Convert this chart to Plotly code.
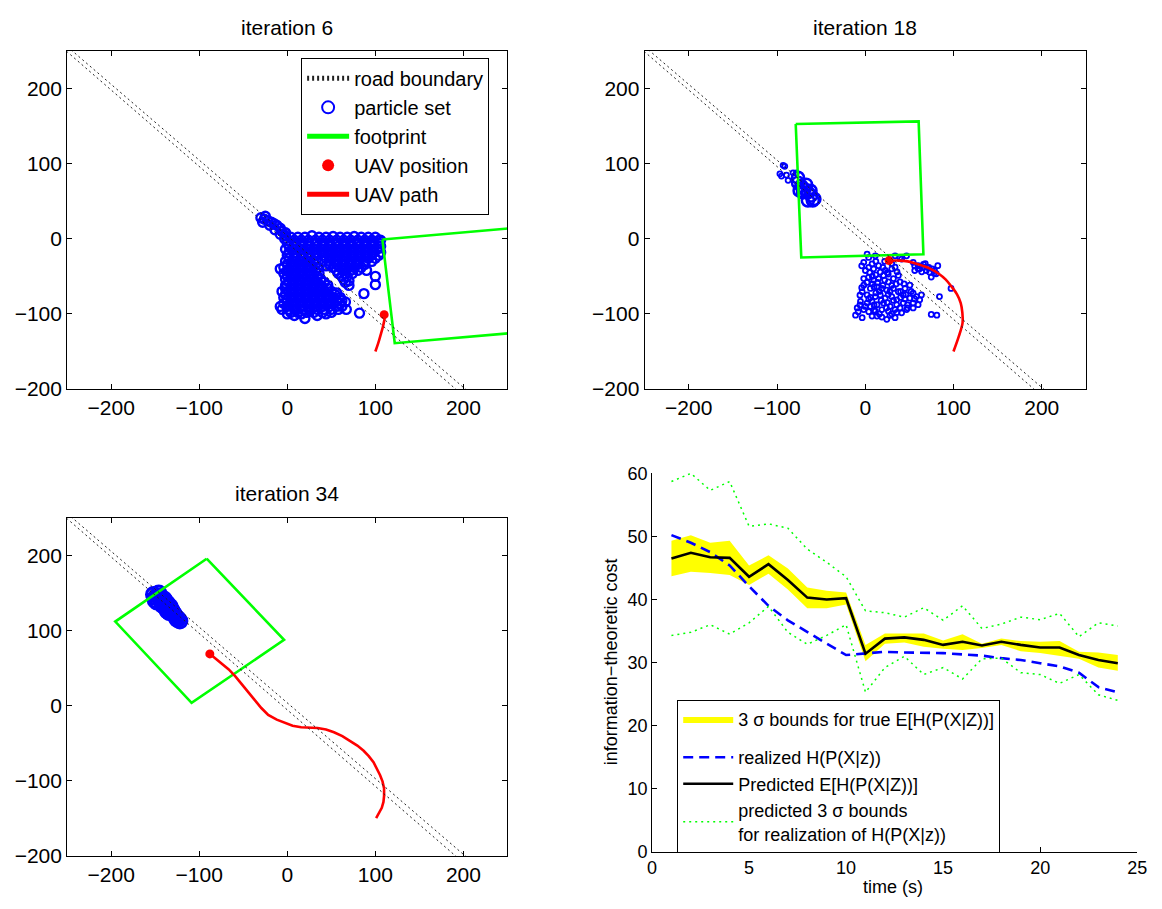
import plotly.graph_objects as go

FONT = "Liberation Sans, Arial, Helvetica, sans-serif"

# ---------------- data ----------------
# road boundaries (same in the three map panels)
road_a_x = [-255, 200]
road_a_y = [254, -209]
road_b_x = [-250, 215]
road_b_y = [256, -213]

# ---- iteration 6 ----
tl_particles = [
    # arm along the road
    (-30, 28), (-25, 30), (-28, 22), (-22, 24), (-20, 18), (-15, 20), (-14, 12), (-8, 14), (-8, 6), (-2, 8), (-3, 0),
    (-26, 26), (-18, 22), (-12, 18), (-6, 10), (-2, 4),
    # main body
    (4, 2), (12, 2), (20, 2), (28, 4), (36, 2), (44, 2), (52, 3), (60, 2), (68, 2), (76, 3), (84, 2), (92, 2), (100, 2), (106, -2),
    (0, -2), (8, -2), (16, -2), (24, -2), (32, -2), (40, -2), (48, -2), (56, -2), (64, -2), (72, -2), (80, -2), (88, -2), (96, -2), (104, -2),
    (0, -6), (8, -6), (16, -6), (24, -6), (32, -6), (40, -6), (48, -6), (56, -6), (64, -6), (72, -6), (80, -6), (88, -6), (96, -6), (104, -6),
    (2, -10), (10, -10), (18, -10), (26, -10), (34, -10), (42, -10), (50, -10), (58, -10), (66, -10), (74, -10), (82, -10), (90, -10), (98, -10), (106, -10),
    (-2, -14), (6, -14), (14, -14), (22, -14), (30, -14), (38, -14), (46, -14), (54, -14), (62, -14), (70, -14), (78, -14), (86, -14), (94, -14), (102, -14), (106, -18),
    (2, -18), (10, -18), (18, -18), (26, -18), (34, -18), (42, -18), (50, -18), (58, -18), (66, -18), (74, -18), (82, -18), (90, -18), (98, -18),
    (0, -22), (8, -22), (16, -22), (24, -22), (32, -22), (40, -22), (48, -22), (56, -22), (64, -22), (72, -22), (80, -22), (88, -22), (96, -22), (104, -22),
    (2, -26), (10, -26), (18, -26), (26, -26), (34, -26), (44, -26), (52, -26), (60, -26), (68, -26), (76, -26), (84, -26), (92, -26), (100, -26),
    (-2, -30), (6, -30), (14, -30), (22, -30), (30, -30), (40, -30), (48, -30), (56, -30), (64, -30), (72, -30), (80, -30), (88, -30), (96, -30),
    (0, -34), (8, -34), (16, -34), (24, -34), (32, -34), (48, -34), (56, -34), (64, -34), (72, -34), (80, -34), (88, -34),
    (-4, -38), (4, -38), (12, -38), (20, -38), (28, -38), (36, -38), (44, -36), (52, -38), (60, -38), (68, -38), (76, -38), (84, -38),
    (0, -42), (8, -42), (16, -42), (24, -42), (32, -42), (56, -42), (64, -42), (72, -42), (80, -42),
    (-4, -46), (4, -46), (12, -46), (20, -46), (28, -46), (36, -46), (58, -46), (66, -46), (74, -46),
    (0, -50), (8, -50), (16, -50), (26, -50), (34, -50), (62, -50), (68, -50),
    (-2, -54), (6, -54), (14, -54), (22, -54), (30, -54), (38, -54), (64, -54), (70, -56),
    (2, -58), (10, -58), (18, -58), (26, -58), (34, -58), (42, -58), (66, -58),
    (-2, -62), (6, -62), (14, -62), (22, -62), (30, -62), (38, -62), (46, -62), (70, -62),
    (-2, -66), (6, -66), (14, -66), (22, -66), (30, -66), (38, -66), (46, -66),
    (-6, -70), (2, -70), (10, -70), (18, -70), (26, -70), (34, -70), (42, -70), (50, -70), (56, -72),
    (-2, -74), (6, -74), (14, -74), (22, -74), (30, -74), (38, -74), (46, -74), (54, -74),
    (-4, -78), (4, -78), (12, -78), (20, -78), (28, -78), (36, -78), (44, -78), (52, -78), (60, -78),
    (0, -82), (8, -82), (16, -82), (24, -82), (32, -82), (40, -82), (48, -82), (56, -82), (62, -82),
    (-4, -86), (4, -86), (12, -86), (20, -86), (28, -86), (36, -86), (44, -86), (52, -86), (60, -86), (66, -84),
    (0, -90), (8, -90), (16, -90), (24, -90), (32, -90), (40, -90), (48, -90), (56, -90), (62, -90),
    (-6, -94), (2, -94), (10, -94), (18, -94), (26, -94), (34, -94), (42, -94), (50, -94), (58, -94),
    (4, -98), (12, -98), (22, -98), (30, -98), (40, -98), (50, -98),
    (0, -100), (8, -102), (16, -100), (34, -102), (44, -100),
    # stray particles
    (20, -106), (67, -94), (82, -99), (87, -73), (100, -50), (100, -61), (90, -42), (-8, -40), (-8, -90),
]
tl_footprint_x = [108, 270, 270, 122, 108]
tl_footprint_y = [-1, 15.8, -124, -139, -1]
tl_path_x = [100, 103, 106, 109, 110.5, 110]
tl_path_y = [-150, -140, -128, -115, -105, -101]
tl_uav = (110, -101)

# ---- iteration 18 ----
tr_small = [
    (2.1, -20.5), (3.9, -24.8), (11.4, -22.7), (33.8, -22.7), (39.4, -24.8), (46.8, -22.7), (41.2, -27.0),
    (-1.7, -31.3), (7.7, -33.5), (15.1, -35.7), (9.5, -40.0), (0.2, -42.2), (17.0, -44.4), (22.6, -42.2),
    (30.0, -40.0), (33.8, -37.8), (54.3, -31.3), (59.9, -35.7), (61.7, -40.0), (65.5, -37.8), (69.2, -42.2),
    (56.1, -42.2), (72.9, -44.4), (78.5, -42.2), (82.2, -35.7), (80.4, -46.5), (74.8, -50.9),
    (-1.7, -53.0), (3.9, -50.9), (9.5, -55.2), (15.1, -53.0), (20.7, -48.7), (26.3, -57.4), (31.9, -53.0),
    (37.5, -48.7), (39.4, -57.4), (-1.7, -61.7), (5.8, -66.0), (13.3, -63.9), (18.8, -66.0), (24.4, -68.2),
    (31.9, -66.0), (37.5, -70.4), (45.0, -66.0), (50.5, -61.7), (54.3, -72.5), (-3.5, -70.4), (2.1, -74.7),
    (11.4, -76.9), (17.0, -74.7), (22.6, -79.0), (30.0, -76.9), (35.6, -81.2), (43.1, -74.7), (50.5, -79.0),
    (58.0, -76.9), (61.7, -81.2), (63.6, -74.7), (-5.4, -83.4), (2.1, -85.5), (7.7, -83.4), (13.3, -87.7),
    (20.7, -85.5), (28.2, -89.9), (35.6, -87.7), (43.1, -85.5), (54.3, -85.5), (59.9, -87.7), (-9.1, -92.0),
    (-1.7, -94.2), (5.8, -89.9), (11.4, -96.4), (18.8, -94.2), (26.3, -96.4), (33.8, -94.2), (39.4, -92.0),
    (46.8, -94.2), (54.3, -92.0), (-11.0, -101.6), (-3.5, -105.0), (7.7, -102.9), (13.3, -102.9), (18.8, -104.2),
    (24.4, -107.2), (33.8, -105.0), (41.2, -98.5), (74.8, -100.7), (81.1, -101.6), (84.1, -76.9), (97.2, -66.0),
    (5, -45), (12, -48), (25, -45), (8, -60), (20, -62), (28, -70), (12, -72), (35, -60), (45, -80), (25, -85),
    (4, -80), (-6, -75), (10, -95), (30, -100), (48, -88), (40, -70), (52, -70), (66, -34), (70, -38), (76, -40),
    (-4, -36), (4, -38), (12, -30), (20, -38), (26, -47), (8, -50), (14, -58), (2, -58), (22, -55), (30, -62),
    (10, -64), (-4, -65), (16, -70), (26, -74), (6, -78), (18, -82), (32, -82), (40, -78), (0, -90), (10, -88),
    (24, -92), (36, -98), (16, -100), (46, -74), (48, -92), (56, -80), (-6, -88), (60, -40), (64, -44), (72, -38),
    (68, -33), (78, -46), (56, -36), (-8, -97), (28, -102), (4, -97), (22, -30), (30, -33), (44, -60), (36, -44),
    (-93.0, 97.8), (-91.2, 96.5), (-96.7, 86.5), (-94.9, 83.5), (-89.3, 84.8), (-87.4, 77.9), (-81.8, 87.8), (-78.1, 87.8),
]
tr_big = [
    (-76.2, 74.8), (-72.5, 70.5), (-68.8, 66.1), (-65.0, 61.8), (-61.3, 57.5), (-57.6, 53.1),
    (-70.6, 61.8), (-65.0, 51.0), (-59.5, 51.0), (-74.4, 64.0), (-76.2, 81.3), (-67, 72), (-62, 64),
]
tr_footprint_x = [-78.8, 60.5, 65.9, -72.5, -78.8]
tr_footprint_y = [152.9, 156.4, -20.5, -24.8, 152.9]
tr_path_x = [100, 106, 110.3, 110, 108.2, 104, 97.9, 91, 83.3, 74, 64.6, 56, 48, 38, 27.2]
tr_path_y = [-150, -130, -111.6, -98, -85.5, -74, -63.8, -54, -46.5, -40, -35.7, -32.5, -30, -29, -29.2]
tr_uav = (27, -29)

# ---- iteration 34 ----
bl_particles = [
    (-150, 144), (-146, 146), (-144, 140), (-148, 138), (-141, 137), (-138, 134), (-135, 131),
    (-140, 142), (-132, 128), (-130, 124), (-128, 121), (-126, 118), (-124, 116), (-136, 126),
    (-152, 148), (-150, 140), (-146, 150), (-144, 144), (-142, 134), (-139, 140), (-136, 136),
    (-133, 132), (-131, 127), (-129, 123), (-127, 119), (-125, 115), (-122, 113), (-134, 124), (-138, 130),
]
bl_footprint_x = [-91.6, -3.7, -108.7, -195.4, -91.6]
bl_footprint_y = [195.8, 87.8, 3.8, 112.1, 195.8]
bl_path_x = [100.9, 104.5, 107.3, 109.2, 109.9, 109.9, 108.2, 105.4, 102, 97.9, 92.5, 86.7, 79.5, 71.7,
             62.5, 53, 44, 34.4, 25, 15.7, 6, -3, -12, -21.7, -29.5, -36.7, -44, -51.6, -59, -66.5, -72, -77.7, -83, -87.8]
bl_path_y = [-149.7, -142, -135.9, -128, -120, -110, -101, -92.4, -83.5, -75.1, -67, -59.9, -53, -46.9,
             -40.5, -35.2, -31.5, -29.6, -29, -28.5, -26.5, -23, -18.5, -12.3, -3, 7.2, 18, 28.9, 39, 48.4, 54, 59.2, 64.5, 68.8]
bl_uav = (-88, 69)

# ---- cost panel ----
t = list(range(1, 25))
predicted = [46.5, 47.4, 46.7, 46.6, 43.6, 45.6, 43.1, 40.3, 40.0, 40.2, 31.4, 33.8,
             34.0, 33.6, 32.8, 33.3, 32.7, 33.3, 32.8, 32.4, 32.4, 31.2, 30.4, 29.9]
true_upper = [49.3, 50.2, 49.0, 49.3, 45.4, 47.0, 44.9, 41.9, 41.4, 41.1, 32.8, 34.6,
              34.6, 34.6, 33.5, 34.5, 33.0, 33.8, 33.4, 33.3, 33.4, 31.7, 31.6, 31.2]
true_lower = [43.7, 44.4, 44.2, 43.9, 42.3, 44.1, 41.6, 38.6, 38.6, 39.2, 30.2, 33.0,
              33.2, 32.5, 32.2, 32.0, 32.3, 32.8, 31.8, 31.5, 31.1, 30.6, 29.2, 28.7]
realized = [50.2, 49.0, 47.5, 45.4, 42.1, 39.0, 36.7, 34.8, 33.0, 31.2, 31.5, 31.7,
            31.6, 31.6, 31.5, 31.3, 31.1, 30.7, 30.4, 29.9, 29.4, 28.4, 26.1, 25.3]
real_upper = [58.7, 60.0, 57.3, 58.7, 51.6, 52.0, 51.3, 48.0, 45.9, 43.6, 38.2, 37.9,
              37.2, 38.7, 36.7, 39.0, 35.4, 36.1, 37.2, 36.8, 37.8, 34.1, 36.3, 35.8]
real_lower = [34.3, 34.8, 36.0, 34.5, 36.3, 38.9, 34.8, 32.9, 34.3, 36.0, 25.3, 29.2,
              31.0, 28.1, 29.2, 27.4, 30.6, 30.7, 28.4, 28.1, 26.7, 28.1, 24.9, 24.0]

map_ticks = [-200, -100, 0, 100, 200]
cost_xticks = [0, 5, 10, 15, 20, 25]
cost_yticks = [0, 10, 20, 30, 40, 50, 60]

# ---------------- figure ----------------
fig = go.Figure()

BLUE = "#0000ff"
GREEN = "#00ff00"
RED = "#ff0000"


def add_map(xa, ya, particles_sets, fp_x, fp_y, path_x, path_y, uav, legend, path_shape):
    for pts, size, lw, first in particles_sets:
        fig.add_trace(go.Scatter(
            x=[p[0] for p in pts], y=[p[1] for p in pts], mode="markers",
            marker=dict(symbol="circle-open", size=size, color=BLUE, line=dict(width=lw, color=BLUE)),
            name="particle set", showlegend=legend and first, legendrank=2,
            xaxis=xa, yaxis=ya))
    fig.add_trace(go.Scatter(x=fp_x, y=fp_y, mode="lines", line=dict(color=GREEN, width=2.6),
                             name="footprint", showlegend=legend, legendrank=3, xaxis=xa, yaxis=ya))
    fig.add_trace(go.Scatter(x=path_x, y=path_y, mode="lines",
                             line=dict(color=RED, width=2.6, shape=path_shape),
                             name="UAV path", showlegend=legend, legendrank=5, xaxis=xa, yaxis=ya))
    fig.add_trace(go.Scatter(x=[uav[0]], y=[uav[1]], mode="markers",
                             marker=dict(symbol="circle", size=9, color=RED),
                             name="UAV position", showlegend=legend, legendrank=4, xaxis=xa, yaxis=ya))
    for i, (rx, ry) in enumerate([(road_a_x, road_a_y), (road_b_x, road_b_y)]):
        fig.add_trace(go.Scatter(x=rx, y=ry, mode="lines",
                                 line=dict(color="#222222", width=1, dash="2px,3px"),
                                 name="road boundary", showlegend=legend and i == 0, legendrank=1,
                                 xaxis=xa, yaxis=ya))


add_map("x", "y", [(tl_particles, 9, 2.4, True)], tl_footprint_x, tl_footprint_y,
        tl_path_x, tl_path_y, tl_uav, True, "spline")
add_map("x2", "y2", [(tr_small, 5, 1.8, True), (tr_big, 12, 2.5, False)], tr_footprint_x, tr_footprint_y,
        tr_path_x, tr_path_y, tr_uav, False, "spline")
add_map("x3", "y3", [(bl_particles, 14, 3, True)], bl_footprint_x, bl_footprint_y,
        bl_path_x, bl_path_y, bl_uav, False, "linear")

# cost panel
fig.add_trace(go.Scatter(x=t + t[::-1], y=true_upper + true_lower[::-1], mode="lines", fill="toself",
                         fillcolor="#ffff00", line=dict(width=0, color="#ffff00"),
                         name="3 σ bounds for true E[H(P(X|Z))]", legend="legend2", legendgroup="g1",
                         xaxis="x4", yaxis="y4"))
fig.add_trace(go.Scatter(x=t, y=realized, mode="lines", line=dict(color=BLUE, width=2.6, dash="10px,6px"),
                         name="realized H(P(X|z))", legend="legend2", legendgroup="g2",
                         xaxis="x4", yaxis="y4"))
fig.add_trace(go.Scatter(x=t, y=predicted, mode="lines", line=dict(color="black", width=2.6),
                         name="Predicted E[H(P(X|Z))]", legend="legend2", legendgroup="g2",
                         xaxis="x4", yaxis="y4"))
fig.add_trace(go.Scatter(x=t, y=real_upper, mode="lines", line=dict(color=GREEN, width=1.5, dash="2px,4px"),
                         name="predicted 3 σ bounds<br>for realization of H(P(X|z))", legend="legend2",
                         legendgroup="g2", xaxis="x4", yaxis="y4"))
fig.add_trace(go.Scatter(x=t, y=real_lower, mode="lines", line=dict(color=GREEN, width=1.5, dash="2px,4px"),
                         showlegend=False, legendgroup="g2", xaxis="x4", yaxis="y4"))

W, H = 1162, 909


def px_dom(a, b, total, flip=False):
    if flip:
        return [1 - b / total, 1 - a / total]
    return [a / total, b / total]


def map_axis(domain, anchor, rng):
    return dict(domain=domain, anchor=anchor, range=rng, tickvals=map_ticks, ticks="inside", ticklen=5,
                tickcolor="black", showline=True, linecolor="black", linewidth=1, mirror="ticks",
                showgrid=False, zeroline=False, fixedrange=True,
                tickfont=dict(size=21, color="black", family=FONT))


x_left = px_dom(63, 509, W)
x_right = px_dom(648, 1095, W)
y_top = px_dom(42, 388, H, flip=True)
y_bot = px_dom(520, 866, H, flip=True)

fig.update_layout(
    width=W, height=H,
    margin=dict(l=0, r=0, t=0, b=0),
    paper_bgcolor="white", plot_bgcolor="white",
    font=dict(family=FONT, color="black"),
    xaxis=map_axis(x_left, "y", [-250, 250]),
    yaxis=map_axis(y_top, "x", [-200, 250]),
    xaxis2=map_axis(x_right, "y2", [-250, 250]),
    yaxis2=map_axis(y_top, "x2", [-200, 250]),
    xaxis3=map_axis(x_left, "y3", [-250, 250]),
    yaxis3=map_axis(y_bot, "x3", [-200, 250]),
    xaxis4=dict(domain=px_dom(655.5, 1147, W), anchor="y4", range=[0, 25], tickvals=cost_xticks,
                ticks="inside", ticklen=5, tickcolor="black", showline=True, linecolor="black",
                linewidth=1, showgrid=False, zeroline=False, fixedrange=True,
                tickfont=dict(size=18, color="black", family=FONT)),
    yaxis4=dict(domain=px_dom(474.3, 861.7, H, flip=True), anchor="x4", range=[0, 60], tickvals=cost_yticks,
                ticks="inside", ticklen=5, tickcolor="black", showline=True, linecolor="black",
                linewidth=1, showgrid=False, zeroline=False, fixedrange=True,
                tickfont=dict(size=18, color="black", family=FONT)),
    legend=dict(x=300 / W, y=1 - 49 / H, xanchor="left", yanchor="top", bgcolor="white",
                bordercolor="black", borderwidth=1, font=dict(size=20, family=FONT, color="black"),
                tracegroupgap=0, itemsizing="constant", itemwidth=42),
    legend2=dict(x=681 / W, y=1 - 706 / H, xanchor="left", yanchor="top", bgcolor="white",
                 bordercolor="black", borderwidth=1, font=dict(size=18, family=FONT, color="black"),
                 tracegroupgap=12, traceorder="grouped", itemwidth=50),
    annotations=[
        dict(text="iteration 6", x=286 / W, y=1 - 18 / H, xref="paper", yref="paper", showarrow=False,
             xanchor="center", yanchor="middle", font=dict(size=21, family=FONT, color="black")),
        dict(text="iteration 18", x=871.5 / W, y=1 - 18 / H, xref="paper", yref="paper", showarrow=False,
             xanchor="center", yanchor="middle", font=dict(size=21, family=FONT, color="black")),
        dict(text="iteration 34", x=286 / W, y=1 - 495 / H, xref="paper", yref="paper", showarrow=False,
             xanchor="center", yanchor="middle", font=dict(size=21, family=FONT, color="black")),
        dict(text="time (s)", x=900 / W, y=1 - 898 / H, xref="paper", yref="paper", showarrow=False,
             xanchor="center", yanchor="middle", font=dict(size=18, family=FONT, color="black")),
        dict(text="information\u2212theoretic cost", x=613.5 / W, y=1 - 667 / H, xref="paper", yref="paper",
             showarrow=False, textangle=-90, xanchor="center", yanchor="middle",
             font=dict(size=18, family=FONT, color="black")),
    ],
)

fig.write_html("out.html", config={"displayModeBar": False},
               post_script="document.body.style.margin='0px';")
